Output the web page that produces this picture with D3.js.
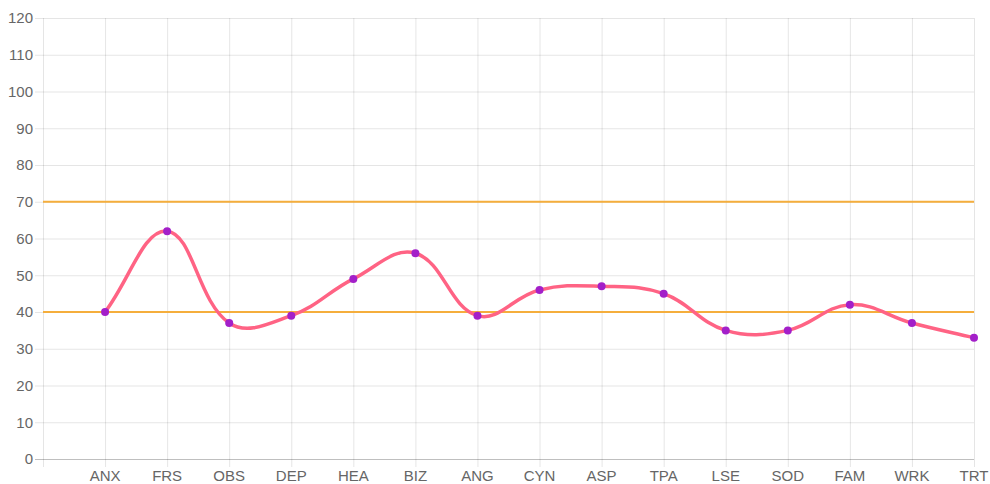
<!DOCTYPE html>
<html>
<head>
<meta charset="utf-8">
<script src="https://cdn.jsdelivr.net/npm/d3@7"></script>
<style>
  body { margin: 0; background: #fff; }
  svg text { font-family: "Liberation Sans", Arial, Helvetica, sans-serif; fill: #666; font-size: 15px; }
</style>
</head>
<body>
<svg id="chart" width="990" height="484"></svg>
<script>
// first slot is an empty category sitting on the y axis
const categories = ['', 'ANX', 'FRS', 'OBS', 'DEP', 'HEA', 'BIZ', 'ANG', 'CYN', 'ASP', 'TPA', 'LSE', 'SOD', 'FAM', 'WRK', 'TRT'];
const scores = [null, 40, 62, 37, 39, 49, 56, 39, 46, 47, 45, 35, 35, 42, 37, 33];
const thresholds = [70, 40];
const yTicks = [0, 10, 20, 30, 40, 50, 60, 70, 80, 90, 100, 110, 120];

const LEFT = 43, RIGHT = 974, TOP = 18, BOTTOM = 459;
const colors = {
    grid: 'rgba(0,0,0,0.1)',
    zero: 'rgba(0,0,0,0.25)',
    line: '#ff6384',
    point: '#a31fc9',
    threshold: '#f5ae3c'
};

const svg = d3.select('#chart');
const x = d3.scalePoint().domain(d3.range(categories.length)).range([LEFT, RIGHT]);
const y = d3.scaleLinear().domain([0, 120]).range([BOTTOM, TOP]);

// horizontal grid + tick marks running out to the labels
svg.append('g').selectAll('line').data(yTicks).join('line')
    .attr('x1', LEFT - 8).attr('x2', RIGHT)
    .attr('y1', d => y(d) + 0.5).attr('y2', d => y(d) + 0.5)
    .attr('stroke', d => d === 0 ? colors.zero : colors.grid)
    .attr('stroke-width', 1);
svg.append('g').selectAll('text').data(yTicks).join('text')
    .attr('x', LEFT - 10).attr('y', d => y(d))
    .attr('dy', '0.35em').attr('text-anchor', 'end')
    .text(d => d);

// vertical grid
svg.append('g').selectAll('line').data(d3.range(categories.length)).join('line')
    .attr('x1', d => x(d) + 0.5).attr('x2', d => x(d) + 0.5)
    .attr('y1', TOP).attr('y2', BOTTOM + 8)
    .attr('stroke', colors.grid).attr('stroke-width', 1);
svg.append('g').selectAll('text').data(categories).join('text')
    .attr('x', (d, i) => x(i)).attr('y', BOTTOM + 22)
    .attr('text-anchor', 'middle')
    .text(d => d);

// threshold lines
svg.append('g').selectAll('line').data(thresholds).join('line')
    .attr('x1', LEFT).attr('x2', RIGHT)
    .attr('y1', d => y(d)).attr('y2', d => y(d))
    .attr('stroke', colors.threshold).attr('stroke-width', 2);

/* the reference uses Chart.js style spline (tension 0.4), so compute the
   control points the same way instead of a d3 curve */
const pts = scores.map((v, i) => v === null ? null : [x(i), y(v)]).filter(p => p);
function splinePath(points, t) {
    const cps = points.map((p, i) => {
        const prev = points[i - 1] || p, next = points[i + 1] || p;
        const d01 = Math.hypot(p[0] - prev[0], p[1] - prev[1]);
        const d12 = Math.hypot(next[0] - p[0], next[1] - p[1]);
        let s01 = d01 / (d01 + d12), s12 = d12 / (d01 + d12);
        if (isNaN(s01)) s01 = 0;
        if (isNaN(s12)) s12 = 0;
        const fa = t * s01, fb = t * s12;
        return {
            prev: [p[0] - fa * (next[0] - prev[0]), p[1] - fa * (next[1] - prev[1])],
            next: [p[0] + fb * (next[0] - prev[0]), p[1] + fb * (next[1] - prev[1])]
        };
    });
    const path = d3.path();
    path.moveTo(points[0][0], points[0][1]);
    for (let i = 1; i < points.length; i++) {
        const a = cps[i - 1].next, b = cps[i].prev;
        path.bezierCurveTo(a[0], a[1], b[0], b[1], points[i][0], points[i][1]);
    }
    return path.toString();
}

svg.append('path')
    .attr('d', splinePath(pts, 0.4))
    .attr('fill', 'none')
    .attr('stroke', colors.line)
    .attr('stroke-width', 3.5)
    .attr('stroke-linejoin', 'round');

svg.append('g').selectAll('circle').data(pts).join('circle')
    .attr('cx', d => d[0]).attr('cy', d => d[1])
    .attr('r', 4)
    .attr('fill', colors.point);
</script>
</body>
</html>
